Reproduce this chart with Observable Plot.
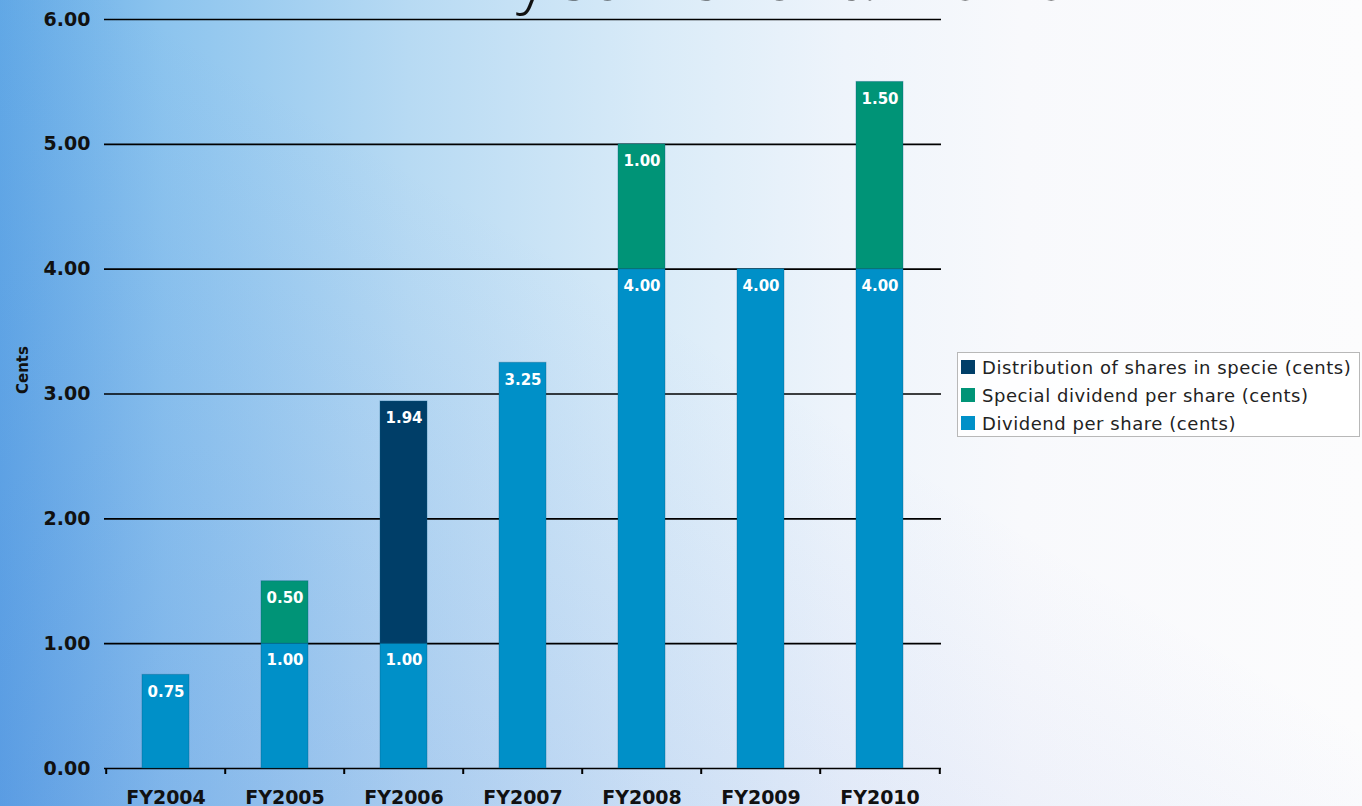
<!DOCTYPE html>
<html>
<head>
<meta charset="utf-8">
<script src="https://cdn.jsdelivr.net/npm/d3@7"></script>
<script src="https://cdn.jsdelivr.net/npm/@observablehq/plot@0.6"></script>
<style>
  html, body { margin: 0; padding: 0; width: 1362px; height: 806px; overflow: hidden; }
  body {
    position: relative;
    background:
      linear-gradient(to top right, rgba(50,90,210,0.16), rgba(255,255,255,0) 55%),
      linear-gradient(to right, #62a9e6 0%, #8cc4ee 12%, #b7daf3 30%, #d9ebf8 48%, #eef4fb 62%, #f8f9fc 75%, #fcfcfd 100%);
    font-family: "DejaVu Sans", Verdana, sans-serif;
  }
  #title {
    position: absolute; left: 452px; top: -75px; width: 800px;
    font-family: "Open Sans", "DejaVu Sans", sans-serif; font-weight: 300;
    font-size: 70px; color: #111; white-space: nowrap; letter-spacing: 3px;
  }
  #chart { position: absolute; left: 0; top: 0; }
  #legend {
    position: absolute; left: 957px; top: 352px; width: 403px; height: 85px;
    background: rgba(255,255,255,0.85); border: 1px solid #b8b8b8; box-sizing: border-box;
    padding: 0 0 0 3px; font-size: 18px; letter-spacing: 0.55px; color: #222;
  }
  #legend .item { display: flex; align-items: center; height: 28px; }
  #legend .sw { width: 14px; height: 14px; margin-right: 7px; }
</style>
</head>
<body>
<div id="title">7 year chart: 2010</div>
<div id="chart"></div>
<div id="legend"></div>
<script>
const years = ["FY2004", "FY2005", "FY2006", "FY2007", "FY2008", "FY2009", "FY2010"];
const dividend = [0.75, 1.00, 1.00, 3.25, 4.00, 4.00, 4.00];
const special = [0, 0.50, 0, 0, 1.00, 0, 1.50];
const distribution = [0, 0, 1.94, 0, 0, 0, 0];
const seriesNames = ["Dividend per share (cents)", "Special dividend per share (cents)", "Distribution of shares in specie (cents)"];
const seriesColors = ["#0090c8", "#009477", "#003e68"];
const yTicks = [0, 1, 2, 3, 4, 5, 6];

const seriesValues = [dividend, special, distribution];
const rows = [];
years.forEach((yr, i) => {
  seriesValues.forEach((vals, s) => {
    if (vals[i] > 0) rows.push({year: yr, series: seriesNames[s], value: vals[i]});
  });
});

const W = 950, H = 806, mL = 104, mR = 9, mT = 19, mB = 38;
const step = (W - mL - mR) / years.length;

const chart = Plot.plot({
  width: W, height: H,
  marginLeft: mL, marginRight: mR, marginTop: mT, marginBottom: mB,
  style: {background: "transparent", fontFamily: "'DejaVu Sans', Verdana, sans-serif", overflow: "visible"},
  x: {domain: years, paddingInner: 0.605, paddingOuter: 0.3025, align: 0.5},
  y: {domain: [0, 6]},
  color: {domain: seriesNames, range: seriesColors},
  marks: [
    Plot.ruleY(yTicks, {y: d => d, stroke: "#000", strokeWidth: 1.6}),
    Plot.barY(rows, Plot.stackY({x: "year", y: "value", fill: "series", z: "series", stroke: "#0a5a80", strokeOpacity: 0.35, strokeWidth: 1})),
    Plot.text(rows, Plot.stackY2({x: "year", y: "value", z: "series", text: d => d3.format(".2f")(d.value), fill: "white", fontWeight: "bold", fontSize: 15, dy: 17})),
    Plot.ruleX(years, {x: d => d, y1: 0, y2: 0, dx: -step / 2, insetBottom: -6, stroke: "#000", strokeWidth: 2}),
    Plot.ruleX([years[years.length - 1]], {x: d => d, y1: 0, y2: 0, dx: step / 2, insetBottom: -6, stroke: "#000", strokeWidth: 2}),
    Plot.axisY(yTicks, {tickSize: 0, tickPadding: 14, tickFormat: d3.format(".2f"), fontSize: 19, fontWeight: "bold", fill: "#111", label: null}),
    Plot.axisX({tickSize: 0, tickPadding: 22, fontSize: 19, fontWeight: "bold", fill: "#111", label: null}),
    Plot.text(["Cents"], {frameAnchor: "left", dx: -81, rotate: -90, text: d => d, fontSize: 15, fontWeight: "bold", fill: "#111"})
  ]
});
document.getElementById("chart").appendChild(chart);

const legend = document.getElementById("legend");
[2, 1, 0].forEach(s => {
  const it = document.createElement("div");
  it.className = "item";
  it.innerHTML = `<span class="sw" style="background:${seriesColors[s]}"></span><span>${seriesNames[s]}</span>`;
  legend.appendChild(it);
});
</script>
</body>
</html>
